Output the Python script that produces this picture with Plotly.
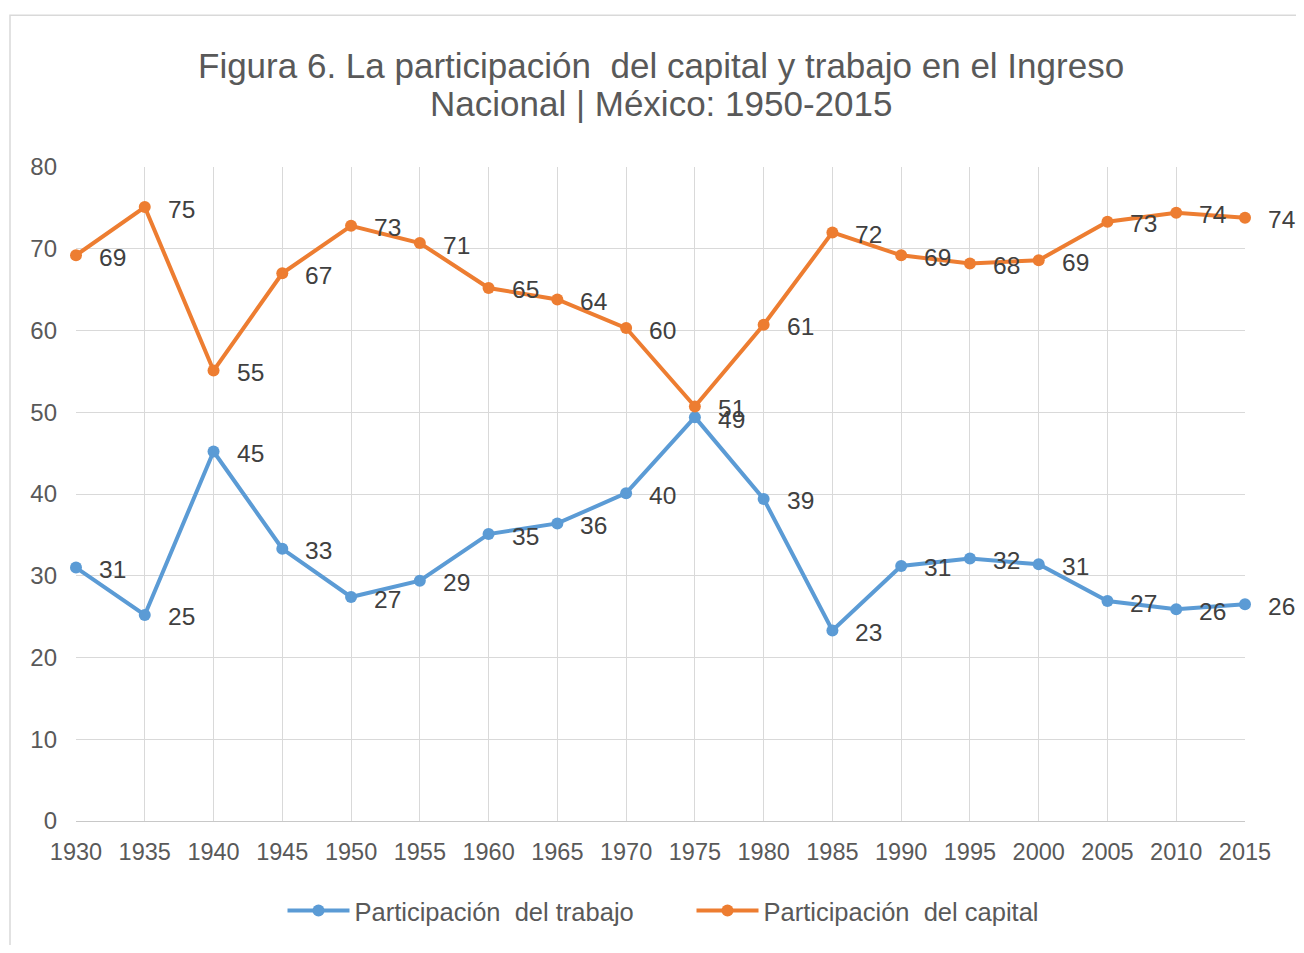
import plotly.graph_objects as go

years = [1930, 1935, 1940, 1945, 1950, 1955, 1960, 1965, 1970, 1975,
         1980, 1985, 1990, 1995, 2000, 2005, 2010, 2015]
trabajo = [31.0, 25.2, 45.2, 33.3, 27.4, 29.4, 35.1, 36.4, 40.1, 49.4,
           39.4, 23.3, 31.2, 32.1, 31.4, 26.9, 25.9, 26.5]
capital = [69.2, 75.1, 55.1, 67.0, 72.8, 70.7, 65.2, 63.8, 60.3, 50.7,
           60.7, 72.0, 69.2, 68.2, 68.6, 73.3, 74.4, 73.8]
tick_vals_y = [0, 10, 20, 30, 40, 50, 60, 70, 80]
series_names = ["Participación  del trabajo", "Participación  del capital"]
title_lines = ["Figura 6. La participación  del capital y trabajo en el Ingreso",
               "Nacional | México: 1950-2015"]

BLUE = "#5B9BD5"
ORANGE = "#ED7D31"
TXT = "#404040"
GREY = "#595959"
FONT = "Liberation Sans, Arial, sans-serif"

W, H = 1296, 937
L, T = 68, 159
PW, PH = 1169, 655
PAGE_BOTTOM = 822  # plot bottom in page pixels


def py(ypage):
    return (PAGE_BOTTOM - ypage) / PH


fig = go.Figure()
for name, vals, col in [(series_names[0], trabajo, BLUE), (series_names[1], capital, ORANGE)]:
    fig.add_trace(go.Scatter(
        x=years, y=vals, name=name, mode="lines+markers",
        line=dict(color=col, width=4),
        marker=dict(color=col, size=12),
        cliponaxis=False,
    ))
    for xv, yv in zip(years, vals):
        fig.add_annotation(
            x=xv, y=yv, text=f"{yv:.0f}", showarrow=False,
            xanchor="left", yanchor="middle", xshift=22, yshift=-2,
            borderpad=0,
            font=dict(family=FONT, size=24.5, color=TXT),
        )

for line, ypage in zip(title_lines, [65, 103]):
    fig.add_annotation(
        text=line, xref="paper", yref="paper",
        x=(661 - 76) / PW, y=py(ypage), xanchor="center", yanchor="middle",
        showarrow=False, font=dict(family=FONT, size=35, color=GREY),
    )

fig.update_layout(
    width=W, height=H,
    margin=dict(l=L, r=W - L - PW, t=T, b=H - T - PH),
    paper_bgcolor="white", plot_bgcolor="white",
    font=dict(family=FONT, color=GREY),
    showlegend=True,
    legend=dict(orientation="h", x=0.5 + 31 / PW, xanchor="center", y=py(911),
                yanchor="middle",
                font=dict(family=FONT, size=25.5, color=GREY),
                entrywidth=332, entrywidthmode="pixels", itemwidth=62,
                bgcolor="rgba(0,0,0,0)"),
    xaxis=dict(range=[1930, 2015], tickmode="array", tickvals=years,
               ticktext=[str(y) for y in years], showgrid=True,
               gridcolor="#d9d9d9", gridwidth=1, showline=True,
               linecolor="#c8c8c8", linewidth=1, zeroline=False,
               tickfont=dict(family=FONT, size=23.5, color=GREY),
               ticks="", ticklabelstandoff=10),
    yaxis=dict(range=[0, 80], tickmode="array", tickvals=tick_vals_y,
               showgrid=True, gridcolor="#d9d9d9", gridwidth=1,
               zeroline=False, showline=False,
               tickfont=dict(family=FONT, size=24, color=GREY),
               ticks="", ticklabelstandoff=18),
)

fig.add_shape(type="rect", xref="paper", yref="paper",
              x0=(10 - 8 - L) / PW, x1=1.2, y0=-0.4, y1=py(15),
              line=dict(color="#d9d9d9", width=1.5), layer="below")

fig.write_html("out.html")
